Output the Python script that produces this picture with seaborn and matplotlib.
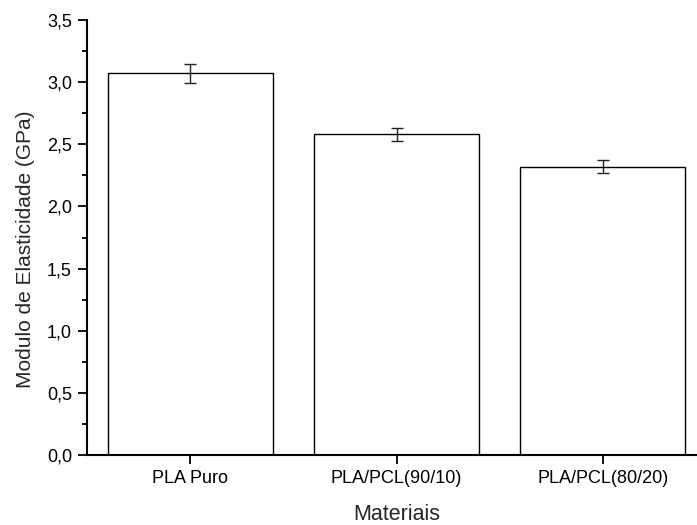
import matplotlib
matplotlib.use("Agg")
import matplotlib.pyplot as plt
import seaborn as sns
import pandas as pd
from matplotlib.ticker import MultipleLocator, FuncFormatter

# Elastic modulus of the PLA and PLA/PCL blends
materiais = ["PLA Puro", "PLA/PCL(90/10)", "PLA/PCL(80/20)"]
modulo = [3.07, 2.58, 2.32]
desvio = [0.08, 0.055, 0.05]

df = pd.DataFrame({"Materiais": materiais, "Modulo": modulo})

sns.set_style("ticks")
plt.rcParams["font.family"] = ["Liberation Sans", "DejaVu Sans"]

fig = plt.figure(figsize=(6.97, 5.25), dpi=100)
ax = fig.add_axes([87 / 697, 1 - 455 / 525, (706 - 87) / 697, (455 - 20) / 525])

sns.barplot(data=df, x="Materiais", y="Modulo", ax=ax, color="white",
            edgecolor="black", linewidth=1.0, width=0.8, errorbar=None,
            saturation=1)
ax.errorbar(range(len(materiais)), modulo, yerr=desvio, fmt="none",
            ecolor="#222222", elinewidth=1.0, capsize=4.5, capthick=1.0)

ax.set_xlim(-0.5, 2.5)
ax.set_ylim(0, 3.5)
ax.yaxis.set_major_locator(MultipleLocator(0.5))
ax.yaxis.set_minor_locator(MultipleLocator(0.25))
ax.yaxis.set_major_formatter(FuncFormatter(lambda v, p: f"{v:.1f}".replace(".", ",")))

for s in ["top", "right"]:
    ax.spines[s].set_visible(False)
for s in ["left", "bottom"]:
    ax.spines[s].set_linewidth(1.5)
    ax.spines[s].set_color("black")

ax.tick_params(axis="both", which="major", direction="out", length=6.3,
               width=1.3, colors="black", labelsize=13, pad=4.5)
ax.tick_params(axis="y", which="minor", direction="out", length=3.4,
               width=1.3, colors="black")

ax.set_xlabel("Materiais", fontsize=15.5, labelpad=12)
ax.set_ylabel("Modulo de Elasticidade (GPa)", fontsize=15)
ax.yaxis.set_label_coords(-52 / 619, 0.474)

fig.savefig("out.png", dpi=100)
